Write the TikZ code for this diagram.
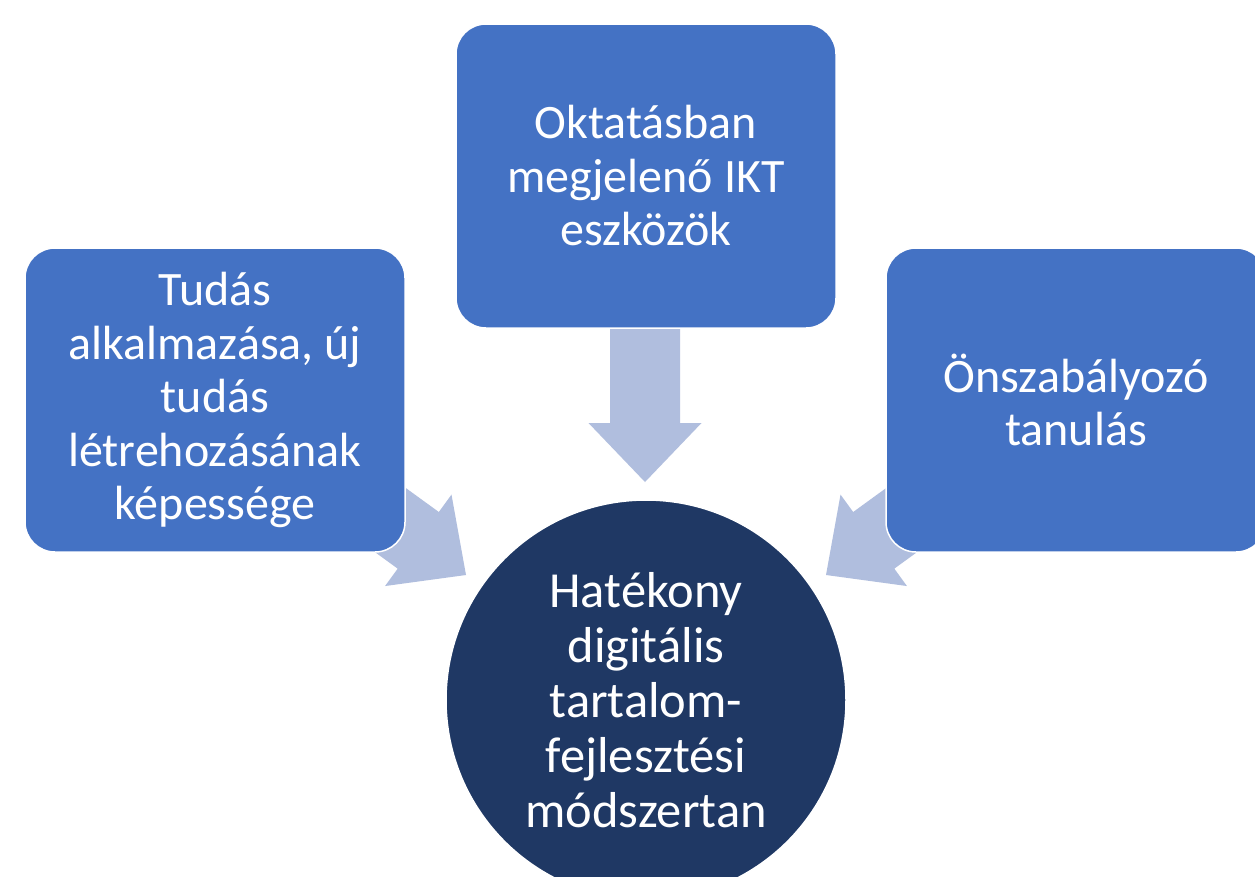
\documentclass[tikz,border=0pt]{standalone}
\usepackage{fontspec}
\setmainfont{Carlito}
\definecolor{boxblue}{RGB}{68,114,196}
\definecolor{arrowfill}{RGB}{176,190,222}
\definecolor{darkblue}{RGB}{31,56,100}
\newcommand\blockarrow[3]{%
  \fill[arrowfill, shift={(#1)}, rotate=#2] (0,0) -- (-59,56.5) -- (-59,35) -- (-#3,35) -- (-#3,-35) -- (-59,-35) -- (-59,-56.5) -- cycle;}
\tikzset{
  box/.style={rectangle, rounded corners=30pt, fill=boxblue, draw=white, line width=1.5pt,
    minimum width=380pt, minimum height=304pt, text=white, align=center,
    font=\fontsize{48}{53.5}\selectfont, inner sep=0pt},
  hub/.style={circle, fill=darkblue, draw=white, line width=1.5pt, minimum size=400pt,
    text=white, align=center, font=\fontsize{50.5}{55}\selectfont, inner sep=0pt}
}
\begin{document}
\begin{tikzpicture}[x=1pt,y=-1pt]
\useasboundingbox (0,0) rectangle (1255,876);
\clip (0,0) rectangle (1255,876);
\fill[white] (0,0) rectangle (1255,876);
\coordinate (ttip) at (645,482);
\coordinate (ltip) at (466,575);
\coordinate (rtip) at (826,575);
\blockarrow{ttip}{-90}{165}
\blockarrow{ltip}{-36}{280}
\blockarrow{rtip}{-144}{280}
\node[box] (top) at (646,176) {Oktatásban\\megjelenő IKT\\eszközök};
\node[box] (left) at (215,400) {Tudás\\alkalmazása, új\\tudás\\létrehozásának\\képessége};
\node[box] (right) at (1076,400) {Önszabályozó\\tanulás};
\node[hub] (center) at (646,700) {Hatékony\\digitális\\tartalom-\\fejlesztési\\módszertan};
\end{tikzpicture}
\end{document}
